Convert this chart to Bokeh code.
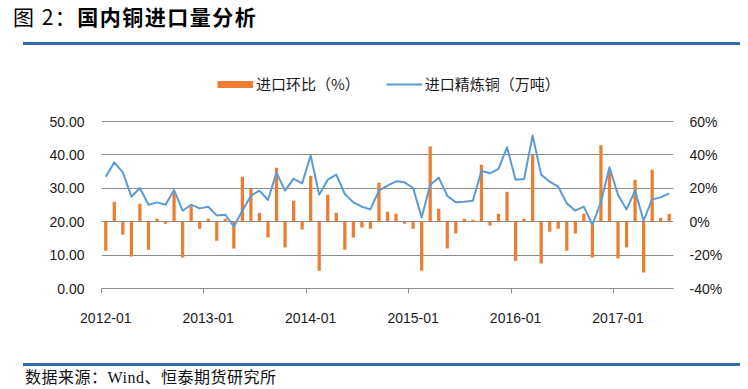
from bokeh.plotting import figure
from bokeh.layouts import column
from bokeh.models import (Range1d, LinearAxis, FixedTicker, PrintfTickFormatter,
                          Legend, LegendItem, ColumnDataSource, Div)
from bokeh.embed import file_html
from bokeh.resources import INLINE

months = [f"{y}-{m:02d}" for y in range(2012, 2018) for m in range(1, 13)][:67]

pct_change = [-17.4, 12.0, -7.8, -20.8, 10.8, -16.8, 1.8, -1.2, 17.8, -21.4, 9.2, -4.2,
              1.8, -11.4, 1.8, -16.0, 27.0, 19.8, 5.4, -9.4, 32.4, -15.4, 12.6, -4.6,
              27.6, -29.4, 16.2, 5.4, -16.8, -9.4, -3.4, -4.2, 23.4, 6.0, 4.8, -1.2,
              -4.2, -29.4, 45.0, 7.8, -16.0, -7.0, 1.8, 1.2, 34.2, -2.2, 4.8, 18.0,
              -23.4, 1.8, 40.0, -25.0, -6.0, -4.2, -17.4, -7.0, 4.8, -21.4, 45.8, 30.6,
              -22.0, -15.4, 25.2, -30.4, 31.2, 2.4, 4.8]

refined_imports = [33.5, 37.8, 34.8, 27.5, 30.1, 25.1, 25.8, 25.1, 29.5, 23.3, 25.1, 24.0,
                   24.5, 21.9, 22.1, 18.6, 23.3, 27.8, 29.3, 26.5, 34.7, 29.3, 32.9, 31.5,
                   39.8, 28.1, 32.6, 34.1, 28.3, 25.8, 24.5, 23.7, 29.3, 30.8, 32.1, 31.8,
                   30.1, 21.3, 31.0, 33.2, 27.8, 25.8, 26.0, 26.3, 35.2, 34.5, 35.8, 42.3,
                   32.6, 32.8, 45.8, 34.1, 32.0, 30.5, 25.5, 23.3, 24.5, 19.1, 25.8, 36.3,
                   28.1, 23.7, 29.3, 20.3, 26.7, 27.3, 28.5]

tick_labels = ["2012-01", "2013-01", "2014-01", "2015-01", "2016-01", "2017-01"]
left_ticks = [0, 10, 20, 30, 40, 50]
right_ticks = [-40, -20, 0, 20, 40, 60]

ORANGE = "#ED7D31"
BLUE = "#5B9BD5"
GRID = "#8C8C8C"
DARK_BLUE = "#2F6DB0"
NUM_FONT = "Liberation Sans"
CJK_FONT = "Noto Sans CJK SC"

x = list(range(len(months)))
src = ColumnDataSource(dict(x=x, month=months, pct=pct_change, imp=refined_imports))

# frame extends above the 50 gridline to host the legend (no outline, so invisible)
p = figure(frame_width=572, frame_height=217,
           min_border_left=101, min_border_right=67, min_border_top=24, min_border_bottom=67,
           x_range=Range1d(-0.5, len(months) - 0.5), y_range=Range1d(0, 65),
           output_backend="svg", toolbar_location=None, margin=0)
p.extra_y_ranges = {"pct": Range1d(-40, 90), "legend_only": Range1d(1000, 2000)}
p.outline_line_color = None
p.background_fill_color = "white"
p.border_fill_color = "white"

bars = p.vbar(x="x", top="pct", bottom=0, width=0.38, source=src, y_range_name="pct",
              fill_color=ORANGE, line_color=None)
line = p.line(x="x", y="imp", source=src, line_color=BLUE, line_width=2, line_join="round")
# legend swatch for the bars: a thick orange line kept outside the visible range
bar_swatch = p.line(x="x", y="pct", source=src, y_range_name="legend_only",
                    line_color=ORANGE, line_width=7)

# grid
p.xgrid.visible = False
p.ygrid.ticker = FixedTicker(ticks=left_ticks)
p.ygrid.grid_line_color = GRID
p.ygrid.grid_line_width = 1

# left axis
ly = p.left[0]
ly.ticker = FixedTicker(ticks=left_ticks)
ly.formatter = PrintfTickFormatter(format="%.2f")
ly.axis_line_color = None
ly.major_tick_out = 0
ly.major_tick_in = 0
ly.minor_tick_out = 0
ly.minor_tick_in = 0
ly.major_label_standoff = 17
ly.major_label_text_font = NUM_FONT
ly.major_label_text_font_size = "14px"
ly.major_label_text_color = "#1a1a1a"

# right axis
ry = LinearAxis(y_range_name="pct", ticker=FixedTicker(ticks=right_ticks),
                formatter=PrintfTickFormatter(format="%d%%"))
ry.axis_line_color = None
ry.major_tick_out = 0
ry.major_tick_in = 0
ry.minor_tick_out = 0
ry.minor_tick_in = 0
ry.major_label_standoff = 16
ry.major_label_text_font = NUM_FONT
ry.major_label_text_font_size = "14px"
ry.major_label_text_color = "#1a1a1a"
p.add_layout(ry, "right")

# bottom axis: labels on category, tick marks on category boundaries
label_pos = [months.index(t) for t in tick_labels]
bx = p.below[0]
bx.ticker = FixedTicker(ticks=label_pos, minor_ticks=[v - 0.5 for v in label_pos])
bx.major_label_overrides = {v: t for v, t in zip(label_pos, tick_labels)}
bx.axis_line_color = GRID
bx.axis_line_width = 1
bx.major_tick_out = 0
bx.major_tick_in = 0
bx.minor_tick_out = 5
bx.minor_tick_in = 0
bx.minor_tick_line_color = GRID
bx.major_label_standoff = 19
bx.major_label_text_font = NUM_FONT
bx.major_label_text_font_size = "14px"
bx.major_label_text_color = "#1a1a1a"

# legend
legend = Legend(items=[LegendItem(label="进口环比（%）", renderers=[bar_swatch]),
                       LegendItem(label="进口精炼铜（万吨）", renderers=[line])],
                orientation="horizontal", location=(116, 194),
                glyph_width=36, glyph_height=20, label_height=20, label_standoff=3,
                spacing=26, padding=0, margin=0, border_line_alpha=0,
                background_fill_alpha=0, label_text_font=CJK_FONT,
                label_text_font_size="15px", label_text_color="#1a1a1a")
p.add_layout(legend)

header = Div(width=740, height=47, margin=0, text=(
    '<div style="position:relative;width:740px;height:47px;">'
    '<div style="position:absolute;left:13px;top:2px;white-space:nowrap;'
    "font-family:'Noto Sans CJK SC';font-size:21px;line-height:28px;letter-spacing:1.5px;color:#000;\">"
    '<span style="font-weight:normal;">图 2：</span><b>国内铜进口量分析</b></div>'
    f'<div style="position:absolute;left:23px;top:42px;width:717px;height:3px;background:{DARK_BLUE};"></div>'
    '</div>'))

footer = Div(width=740, height=34, margin=0, text=(
    '<div style="position:relative;width:740px;height:34px;">'
    f'<div style="position:absolute;left:23px;top:8px;width:717px;height:3px;background:{DARK_BLUE};"></div>'
    '<div style="position:absolute;left:25px;top:13px;white-space:nowrap;'
    "font-family:'Liberation Serif','Noto Sans CJK SC';font-size:16px;line-height:20px;letter-spacing:0.5px;color:#111;\">"
    '数据来源：Wind、恒泰期货研究所</div>'
    '</div>'))

layout = column(header, p, footer, spacing=0, margin=0)

open("out.html", "w").write(file_html(layout, INLINE))
